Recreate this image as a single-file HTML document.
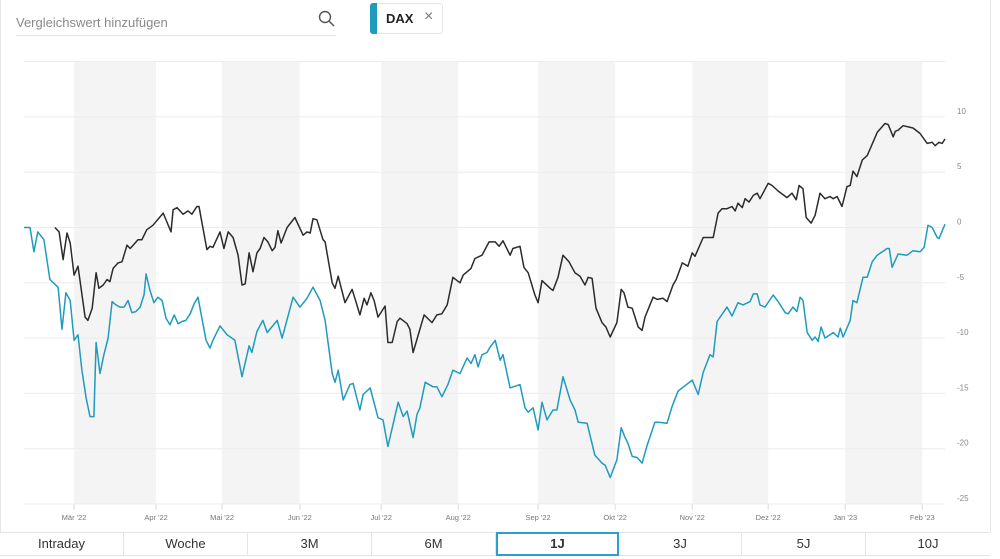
<!DOCTYPE html>
<html><head><meta charset="utf-8"><style>
body{margin:0;width:1000px;height:559px;background:#fff;font-family:"Liberation Sans",sans-serif;overflow:hidden;position:relative}
.abs{position:absolute}
.btn{position:absolute;top:533px;height:22px;line-height:22px;text-align:center;font-size:13px;color:#333;border-right:1px solid #e6e6e6;box-sizing:border-box}
</style></head><body>
<div class="abs" style="left:0;top:0;width:1px;height:532px;background:#e8e8e8"></div>
<div class="abs" style="left:990px;top:0;width:1px;height:532px;background:#e8e8e8"></div>
<div class="abs" style="left:16px;top:15px;width:320px;height:20px;border-bottom:1px solid #e3e3e3;font-size:13px;color:#8a8a8a">Vergleichswert hinzufügen</div>
<svg class="abs" style="left:318px;top:10px" width="18" height="18"><circle cx="7" cy="7" r="5.5" fill="none" stroke="#555" stroke-width="1.4"/><line x1="11" y1="11" x2="16" y2="16" stroke="#555" stroke-width="1.5"/></svg>
<div class="abs" style="left:370px;top:3px;width:73px;height:31px;border:1px solid #e5e5e5;border-radius:3px;box-sizing:border-box">
<div class="abs" style="left:-1px;top:-1px;width:7px;height:31px;background:#1e9bbd;border-radius:3px 0 0 3px"></div>
<span class="abs" style="left:15px;top:7px;font-size:13px;font-weight:bold;color:#222">DAX</span>
<span class="abs" style="left:53px;top:4px;font-size:16px;color:#777">×</span>
</div>
<svg id="chart" class="abs" style="left:0;top:0" width="1000" height="532"></svg>
<div>
<div class="abs" style="left:0;top:532px;width:990px;height:1px;background:#e3e3e3"></div>
<div class="abs" style="left:0;top:555px;width:990px;height:1px;background:#e3e3e3"></div>
<div class="btn" style="left:0;width:124px">Intraday</div>
<div class="btn" style="left:124px;width:124px">Woche</div>
<div class="btn" style="left:248px;width:124px">3M</div>
<div class="btn" style="left:372px;width:124px">6M</div>
<div class="btn" style="left:496px;width:123px;border:2px solid #2a9fd0;top:532px;height:24px;line-height:20px;font-weight:bold">1J</div>
<div class="btn" style="left:619px;width:123px">3J</div>
<div class="btn" style="left:742px;width:124px">5J</div>
<div class="btn" style="left:866px;width:124px;border-right:none">10J</div>
</div>
<script>
const monthLabels=["Mär '22","Apr '22","Mai '22","Jun '22","Jul '22","Aug '22","Sep '22","Okt '22","Nov '22","Dez '22","Jan '23","Feb '23"];
const monthDays=[14.1,37.2,55.8,77.7,100.6,122.3,144.8,166.5,188.2,209.6,231.3,253.0];
const yTicks=[15,10,5,0,-5,-10,-15,-20,-25];
const yTickLabels=["","10","5","0","-5","-10","-15","-20","-25"];
const blueDays=[0,1.7,2.8,3.9,5.6,7.3,9.6,10.7,11.8,13.0,14.1,15.2,16.3,17.5,18.6,19.7,20.3,21.4,22.5,23.7,24.8,25.9,27.0,28.2,29.3,30.4,31.5,32.7,33.8,34.4,35.5,36.6,37.7,38.9,40.0,41.1,42.3,43.4,44.5,45.6,46.8,47.9,49.0,50.1,51.3,52.4,53.2,55.2,57.2,59.4,61.4,63.4,64.2,65.6,67.3,68.5,71.3,72.7,75.8,77.7,79.7,81.4,83.4,84.8,86.8,87.6,88.5,89.9,91.8,92.7,94.6,95.5,97.5,99.7,101.1,102.5,105.4,106.8,107.9,109.6,110.7,111.5,113.0,115.2,116.3,117.7,119.4,120.8,122.8,124.8,125.9,127.0,127.9,129.0,130.4,131.3,132.7,134.1,134.9,136.9,139.7,141.1,142.0,143.4,144.8,145.9,147.3,149.0,150.1,151.8,153.8,155.2,156.1,158.6,160.8,162.8,163.7,165.1,167.0,168.2,169.3,170.1,171.3,172.7,174.1,175.5,177.7,178.6,181.1,182.5,184.2,188.2,189.9,191.3,193.2,194.1,195.2,198.0,199.4,201.1,202.5,204.5,205.4,206.5,207.3,208.7,211.0,212.4,214.4,215.2,216.6,217.7,218.6,219.4,220.6,222.0,222.8,223.7,224.5,225.6,227.9,229.3,229.9,230.7,232.7,233.5,234.6,236.3,237.5,238.9,240.3,243.1,243.7,244.5,246.2,248.7,250.4,252.4,253.5,254.6,255.8,257.2,257.7,259.4];
const blueValues=[0,0,-2.2,-0.4,-1.1,-4.7,-5.4,-9.2,-5.9,-6.6,-10.2,-9.7,-12.9,-15.4,-17.1,-17.1,-10.4,-13.2,-11.5,-10.0,-6.7,-7.0,-7.2,-7.2,-6.6,-7.7,-7.6,-7.2,-6.1,-4.2,-5.7,-6.8,-6.3,-6.6,-8.2,-8.8,-7.9,-8.7,-8.5,-8.4,-7.8,-6.9,-6.3,-8.2,-10.2,-10.9,-10.2,-8.9,-9.7,-10.2,-13.5,-10.7,-11.3,-9.4,-8.4,-9.5,-8.4,-10.0,-6.3,-7.2,-6.4,-5.4,-6.6,-8.4,-13.2,-14.0,-12.9,-15.6,-14.2,-14.1,-16.5,-15.1,-14.5,-17.2,-17.4,-19.8,-15.8,-17.1,-16.6,-19.0,-16.9,-16.3,-14.0,-14.4,-14.4,-15.3,-14.2,-12.9,-13.2,-11.8,-12.3,-11.5,-12.6,-11.5,-11.3,-10.8,-10.2,-12.0,-11.5,-14.5,-14.2,-16.3,-16.7,-16.3,-18.3,-15.8,-17.4,-16.5,-16.5,-13.5,-15.6,-16.5,-17.6,-17.7,-20.6,-21.3,-21.5,-22.6,-21.0,-18.1,-19.0,-19.5,-20.7,-20.8,-21.3,-19.7,-17.6,-17.6,-17.7,-16.2,-14.8,-13.8,-15.1,-13.1,-11.5,-11.7,-8.5,-7.2,-8.0,-6.8,-7.0,-6.7,-6.0,-6.0,-7.0,-7.2,-6.1,-6.7,-7.7,-7.8,-7.2,-7.6,-6.3,-6.6,-9.5,-10.2,-9.9,-10.3,-9.0,-10.0,-9.5,-9.9,-9.1,-9.9,-8.4,-6.6,-6.8,-4.5,-4.5,-3.1,-2.5,-1.9,-1.9,-3.6,-2.4,-2.5,-2.1,-2.2,-1.8,0.2,0.0,-0.9,-1.0,0.3];
const blackDays=[8.7,9.9,11.0,12.1,13.0,14.1,15.2,17.2,18.0,19.2,20.3,21.1,22.3,23.4,24.2,25.1,26.5,27.6,29.0,29.9,32.1,33.2,34.6,36.3,39.2,41.4,42.0,43.1,44.8,46.2,47.3,48.7,49.3,51.5,52.4,53.2,55.2,56.3,57.5,58.9,60.3,61.4,62.3,63.4,64.5,65.6,66.5,67.6,68.7,69.9,70.7,71.5,72.4,74.1,76.3,78.6,79.7,80.6,81.4,82.5,84.2,84.8,86.8,87.6,88.5,90.4,92.4,93.2,94.6,95.8,96.6,97.7,98.6,99.7,101.7,102.5,103.7,105.1,105.9,107.9,108.7,109.6,112.7,114.9,116.3,117.7,119.2,120.8,122.8,123.7,125.9,127.0,129.0,131.0,132.7,133.8,134.9,136.9,137.7,139.7,140.8,142.0,143.9,144.8,145.9,148.2,149.0,150.4,151.8,153.5,155.2,156.6,158.0,158.9,160.0,161.1,162.8,163.9,165.1,167.0,168.2,169.0,170.1,171.3,173.0,174.1,174.9,177.2,178.3,180.0,181.1,182.8,183.7,185.4,187.0,188.2,189.0,191.3,193.2,194.1,195.5,196.6,198.0,199.4,200.3,201.1,202.3,203.1,204.2,205.4,206.5,207.3,209.6,210.7,212.4,214.9,216.3,217.5,218.3,219.4,220.3,221.7,222.8,224.2,225.6,227.0,227.9,229.0,230.4,231.8,232.7,233.5,234.6,236.1,237.5,238.3,240.3,242.5,243.4,244.8,245.4,246.2,247.6,250.4,252.4,254.4,255.8,256.6,257.7,258.6,259.4];
const blackValues=[0.0,-0.4,-2.9,-0.5,-1.4,-4.3,-3.5,-8.1,-8.4,-7.3,-4.1,-5.5,-5.2,-4.7,-4.9,-3.7,-3.2,-3.1,-1.6,-1.9,-1.1,-1.1,-0.2,0.2,1.3,-0.4,1.6,1.8,1.2,1.5,1.2,1.9,1.9,-2.0,-1.7,-1.8,-0.4,-1.9,-0.4,-0.9,-2.5,-5.2,-5.1,-2.3,-4.0,-2.3,-1.9,-0.9,-1.3,-2.1,-1.8,-0.3,-1.4,0.0,0.9,-0.7,-0.4,-0.5,0.8,0.7,-1.1,-1.3,-5.0,-5.5,-4.4,-6.8,-5.6,-6.4,-7.9,-6.4,-7.0,-5.9,-6.6,-8.1,-7.1,-10.4,-10.4,-8.5,-8.2,-8.7,-9.2,-11.3,-7.9,-8.6,-7.9,-7.8,-7.0,-4.5,-5.0,-4.3,-3.7,-2.8,-2.5,-1.3,-1.3,-1.7,-1.2,-2.5,-1.9,-1.7,-3.6,-4.1,-6.1,-6.8,-4.8,-5.5,-5.7,-4.5,-2.5,-3.1,-4.1,-4.4,-5.2,-4.5,-4.6,-7.3,-8.6,-9.0,-9.9,-8.6,-5.6,-5.9,-7.2,-7.3,-9.0,-9.3,-8.1,-6.3,-6.5,-6.4,-6.7,-5.2,-4.7,-3.2,-3.5,-2.3,-2.6,-0.9,-0.9,-0.9,1.3,1.7,1.7,1.9,1.5,2.2,1.8,2.6,2.3,2.9,3.1,2.6,4.0,3.8,3.3,2.7,3.1,2.5,3.8,3.5,0.9,0.4,1.1,3.1,2.6,2.8,2.6,2.8,1.9,3.7,3.8,5.1,4.6,6.1,6.5,7.1,8.6,9.4,9.3,8.2,8.7,8.8,9.2,9.0,8.5,7.6,7.7,7.4,7.7,7.6,8.0];

const NS='http://www.w3.org/2000/svg';
const svg=document.getElementById('chart');
const X0=24,X1=945,DMAX=259.4;
const x=d=>X0+(X1-X0)*d/DMAX;
const y=v=>227.5-v*11.06;
function mk(tag,attrs){const e=document.createElementNS(NS,tag);for(const k in attrs)e.setAttribute(k,attrs[k]);svg.appendChild(e);return e;}
for(let i=0;i<monthDays.length;i+=2){
  const x1=x(monthDays[i]),x2=i+1<monthDays.length?x(monthDays[i+1]):X1;
  const r=mk('rect',{x:x1,y:y(15),width:x2-x1,height:y(-25)-y(15),fill:'#f4f4f4'});
  
  
}
yTicks.forEach((t,i)=>{
  const l=mk('line',{x1:X0,x2:X1,y1:y(t),y2:y(t),stroke:'#ececec','stroke-width':1});
  
  
  if(yTickLabels[i]){
    const tx=mk('text',{x:957,y:y(t)-3,'font-size':8,fill:'#888','font-family':'Liberation Sans, sans-serif'});
    tx.textContent=yTickLabels[i];
    
    
  }
});
monthDays.forEach((d,i)=>{
  const l=mk('line',{x1:x(d),x2:x(d),y1:y(-25),y2:y(-25)+6,stroke:'#ddd'});
  
  
  const tx=mk('text',{x:x(d),y:520,'font-size':7.5,fill:'#777','text-anchor':'middle','font-family':'Liberation Sans, sans-serif'});
  tx.textContent=monthLabels[i];
  
  
});
function line(days,vals,color,name){
  const p=mk('polyline',{points:days.map((d,i)=>x(d).toFixed(1)+','+y(vals[i]).toFixed(1)).join(' '),fill:'none',stroke:color,'stroke-width':1.5,'stroke-linejoin':'round'});
  
  
}
line(blueDays,blueValues,'#1e9bbd','dax-line');
line(blackDays,blackValues,'#2b2b2b','stock-line');
</script>
</body></html>
